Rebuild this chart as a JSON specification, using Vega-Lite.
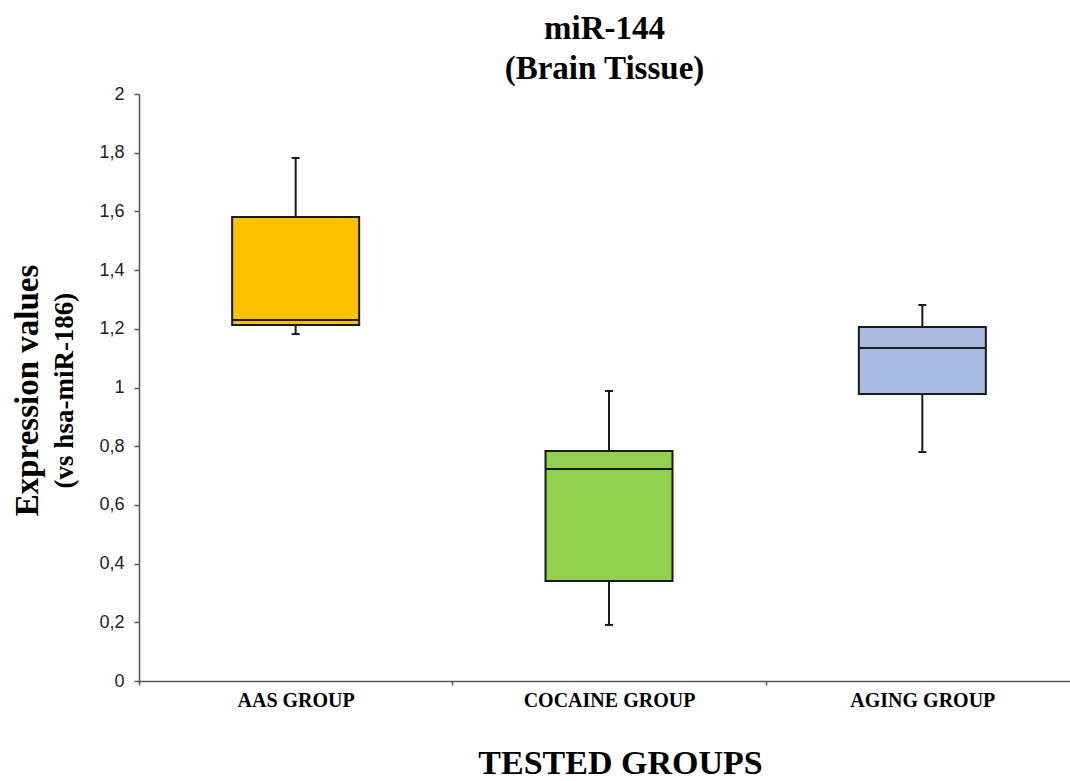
{
  "$schema": "https://vega.github.io/schema/vega-lite/v6.json",
  "width": 931,
  "height": 587,
  "autosize": "none",
  "padding": {"left": 139, "top": 94, "right": 0, "bottom": 100},
  "background": "white",
  "title": {
    "text": ["miR-144", "(Brain Tissue)"],
    "font": "Liberation Serif",
    "fontSize": 33,
    "fontWeight": "bold",
    "color": "black",
    "lineHeight": 40,
    "anchor": "middle",
    "frame": "group",
    "offset": -1
  },
  "data": {
    "values": [
      {"group": "AAS GROUP", "min": 1.182, "q1": 1.213, "median": 1.23, "q3": 1.581, "max": 1.782},
      {"group": "COCAINE GROUP", "min": 0.191, "q1": 0.341, "median": 0.722, "q3": 0.784, "max": 0.988},
      {"group": "AGING GROUP", "min": 0.78, "q1": 0.978, "median": 1.135, "q3": 1.206, "max": 1.281}
    ]
  },
  "encoding": {
    "x": {
      "field": "group",
      "type": "nominal",
      "sort": ["AAS GROUP", "COCAINE GROUP", "AGING GROUP"],
      "scale": {"paddingInner": 0, "paddingOuter": 0, "range": [0, 940]},
      "axis": {
        "title": "TESTED GROUPS",
        "titleFont": "Liberation Serif",
        "titleFontSize": 34,
        "titleFontWeight": "bold",
        "titleColor": "black",
        "titleX": 481,
        "titleY": 92,
        "titleBaseline": "alphabetic",
        "labelFont": "Liberation Serif",
        "labelFontSize": 20,
        "labelFontWeight": "bold",
        "labelColor": "black",
        "labelAngle": 0,
        "labelPadding": 5,
        "tickBand": "extent",
        "tickSize": 4,
        "tickColor": "#555555",
        "tickWidth": 1.5,
        "domainColor": "#555555",
        "domainWidth": 1.5,
        "grid": false
      }
    }
  },
  "layer": [
    {
      "encoding": {
        "y": {
          "type": "quantitative",
          "scale": {"domain": [0, 2], "nice": false, "zero": true},
          "axis": {
            "orient": "left",
            "values": [0, 0.2, 0.4, 0.6, 0.8, 1, 1.2, 1.4, 1.6, 1.8, 2],
            "labelExpr": "replace(format(datum.value, '.1~f'), '.', ',')",
            "labelFont": "Liberation Sans",
            "labelFontSize": 18,
            "labelColor": "#222222",
            "labelPadding": 10,
            "tickSize": 5,
            "tickColor": "#555555",
            "tickWidth": 1.5,
            "domainColor": "#555555",
            "domainWidth": 1.5,
            "grid": false,
            "title": "(vs hsa-miR-186)",
            "titleFont": "Liberation Serif",
            "titleFontSize": 27,
            "titleFontWeight": "bold",
            "titleColor": "black",
            "titleAngle": -90,
            "titleX": -75,
            "titleY": 296,
            "titleBaseline": "middle",
            "titleAlign": "center"
          }
        }
      },
      "layer": [
        {
          "mark": {"type": "rule", "color": "#1a1a1a", "strokeWidth": 2},
          "encoding": {"y": {"field": "min", "type": "quantitative"}, "y2": {"field": "max"}}
        },
        {
          "mark": {"type": "tick", "color": "#1a1a1a", "size": 8, "thickness": 2, "opacity": 1},
          "encoding": {"y": {"field": "min", "type": "quantitative"}}
        },
        {
          "mark": {"type": "tick", "color": "#1a1a1a", "size": 8, "thickness": 2, "opacity": 1},
          "encoding": {"y": {"field": "max", "type": "quantitative"}}
        },
        {
          "mark": {"type": "bar", "width": 127, "stroke": "#1a1a1a", "strokeWidth": 2, "opacity": 1},
          "encoding": {
            "y": {"field": "q1", "type": "quantitative"},
            "y2": {"field": "q3"},
            "color": {
              "field": "group",
              "type": "nominal",
              "scale": {"domain": ["AAS GROUP", "COCAINE GROUP", "AGING GROUP"], "range": ["#FFC000", "#92D050", "#A9BCE1"]},
              "legend": null
            }
          }
        },
        {
          "mark": {"type": "tick", "color": "#1a1a1a", "size": 127, "thickness": 2, "opacity": 1},
          "encoding": {"y": {"field": "median", "type": "quantitative"}}
        }
      ]
    },
    {
      "mark": {"type": "tick", "opacity": 0},
      "encoding": {
        "y": {
          "field": "median",
          "type": "quantitative",
          "scale": {"domain": [0, 2], "nice": false},
          "axis": {
            "orient": "left",
            "labels": false,
            "ticks": false,
            "domain": false,
            "grid": false,
            "title": "Expression values",
            "titleFont": "Liberation Serif",
            "titleFontSize": 33,
            "titleFontWeight": "bold",
            "titleColor": "black",
            "titleAngle": -90,
            "titleX": -112,
            "titleY": 296,
            "titleBaseline": "middle",
            "titleAlign": "center"
          }
        }
      }
    }
  ],
  "resolve": {"scale": {"y": "independent"}, "axis": {"y": "independent"}},
  "config": {"view": {"stroke": null}}
}
